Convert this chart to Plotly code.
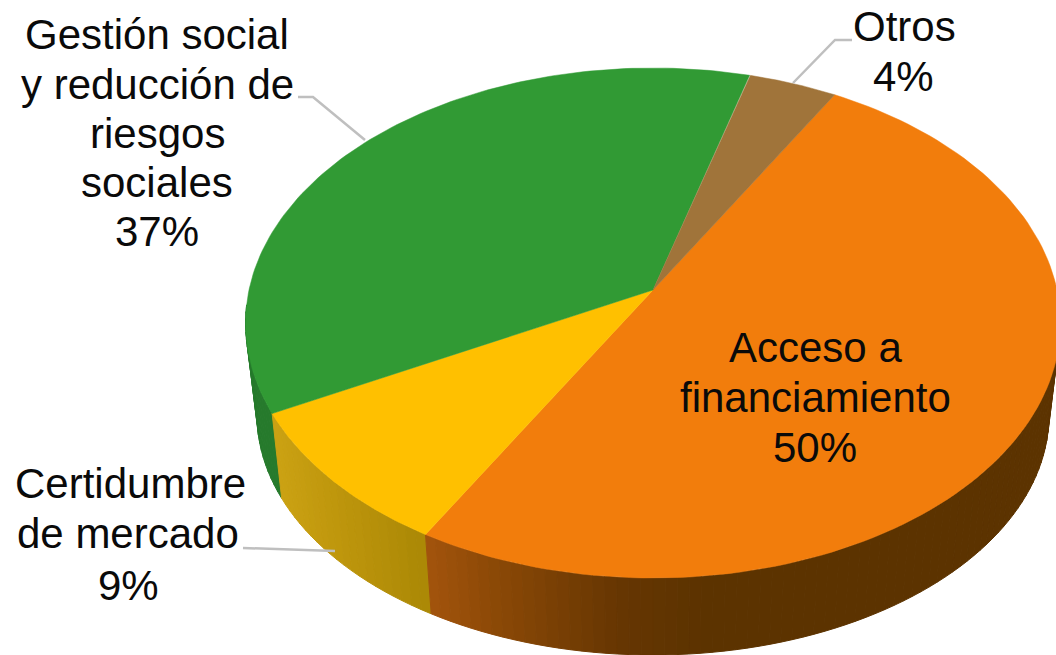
import numpy as np
import plotly.graph_objects as go

# Slices, clockwise from the start angle
categories = ["Acceso a financiamiento", "Certidumbre de mercado",
              "Gestión social y reducción de riesgos sociales", "Otros"]
values = [50, 9, 37, 4]
top_colors = ["#F27D0C", "#FFC000", "#319A34", "#A0743A"]

# Side-wall shading, as (x position, colour) stops for each slice
wall_stops = [
    [(414, (168, 86, 14)), (500, (138, 72, 6)), (620, (102, 54, 2)), (700, (92, 51, 0)), (1060, (92, 51, 0))],
    [(270, (205, 163, 20)), (340, (190, 150, 12)), (420, (172, 137, 6))],
    [(240, (38, 122, 44)), (300, (38, 122, 44))],
    [(0, (110, 80, 40)), (1060, (110, 80, 40))],
]

# Label lines as centred text rows
label_rows = [
    ("Gestión social", 157, 34), ("y reducción de", 157, 84), ("riesgos", 157, 133),
    ("sociales", 157, 182), (f"{values[2]}%", 157, 231),
    ("Otros", 904, 26), (f"{values[3]}%", 903, 76),
    ("Acceso a", 815, 347), ("financiamiento", 815, 397), (f"{values[0]}%", 815, 447),
    ("Certidumbre", 130, 483), ("de mercado", 128, 533), (f"{values[1]}%", 128, 585),
]
leaders = [
    "M 298 97 L 313 97 L 365 140",
    "M 852 40 L 835 40 L 793 83",
    "M 243 548 L 335 551",
]

# Perspective projection of the pie's top disc
START_DEG = 30.0
APEX_X, APEX_Y = 653.0, 290.0
TOP_Y, BOTTOM_Y = 68.0, 578.0
RIM_R = 404.0
ELL_CY, ELL_RY = (TOP_Y + BOTTOM_Y) / 2, (BOTTOM_Y - TOP_Y) / 2
persp = (2 * APEX_Y - TOP_Y - BOTTOM_Y) / (BOTTOM_Y - TOP_Y)
slope = BOTTOM_Y * (1 + persp) - APEX_Y

# Lower rim of the wall; it sits a little narrower than the top face
BASE_CX, BASE_CY, BASE_RX, BASE_RY = 653.0, 415.0, 396.0, 240.0
BASE_SHRINK = 0.975


def rim(theta_deg):
    t = np.radians(theta_deg)
    u, v = np.sin(t), -np.cos(t)
    w = 1 + persp * v
    return APEX_X + RIM_R * u / w, (APEX_Y + slope * v) / w


def base(x):
    px = np.clip((x - APEX_X) * BASE_SHRINK / BASE_RX, -1, 1)
    return BASE_CX + BASE_RX * px, BASE_CY + BASE_RY * np.sqrt(1 - px ** 2)


def shade(stops, x):
    xs = [s[0] for s in stops]
    rgb = [np.interp(x, xs, [s[1][i] for s in stops]) for i in range(3)]
    return "rgb({:.0f},{:.0f},{:.0f})".format(*rgb)


fig = go.Figure()
spans = []
a = START_DEG
for val in values:
    spans.append((a, a + val * 3.6))
    a += val * 3.6

# Wall strips first; only the front half of the rim can show
strips = []
for i, (a0, a1) in enumerate(spans):
    edges = np.linspace(a0, a1, max(int((a1 - a0) / 1.5), 2) + 1)
    for e0, e1 in zip(edges[:-1], edges[1:]):
        x0, y0 = rim(e0)
        x1, y1 = rim(e1)
        if (y0 + y1) / 2 < ELL_CY - 15:
            continue
        bx0, by0 = base(x0)
        bx1, by1 = base(x1)
        strips.append(((y0 + y1) / 2, i, [x0, x1, bx1, bx0, x0], [y0, y1, by1, by0, y0]))
strips.sort(key=lambda s: s[0])
for _, i, xs, ys in strips:
    col = shade(wall_stops[i], sum(xs[:4]) / 4)
    fig.add_trace(go.Scatter(x=xs, y=ys, mode="lines", fill="toself", fillcolor=col,
                             line=dict(color=col, width=1), hoverinfo="skip", showlegend=False))

# Top face of each slice
for (a0, a1), col, name in zip(spans, top_colors, categories):
    rx, ry = rim(np.linspace(a0, a1, 120))
    fig.add_trace(go.Scatter(x=np.r_[APEX_X, rx, APEX_X], y=np.r_[APEX_Y, ry, APEX_Y],
                             mode="lines", fill="toself", fillcolor=col, name=name,
                             line=dict(color=col, width=0.5), hoverinfo="name", showlegend=False))

shapes = [dict(type="path", path=p, xref="x", yref="y", line=dict(color="#BFBFBF", width=2.5))
          for p in leaders]
annotations = [dict(x=x, y=y, xref="x", yref="y", text=t, showarrow=False,
                    xanchor="center", yanchor="middle",
                    font=dict(family="Liberation Sans, Arial, sans-serif", size=42, color="#0A0A0A"))
               for t, x, y in label_rows]

fig.update_layout(
    width=1056, height=655, autosize=False,
    margin=dict(l=0, r=0, t=0, b=0),
    paper_bgcolor="white", plot_bgcolor="white",
    xaxis=dict(range=[0, 1056], visible=False, fixedrange=True),
    yaxis=dict(range=[655, 0], visible=False, fixedrange=True),
    shapes=shapes, annotations=annotations,
)
fig.write_html("out.html", config=dict(displayModeBar=False))
